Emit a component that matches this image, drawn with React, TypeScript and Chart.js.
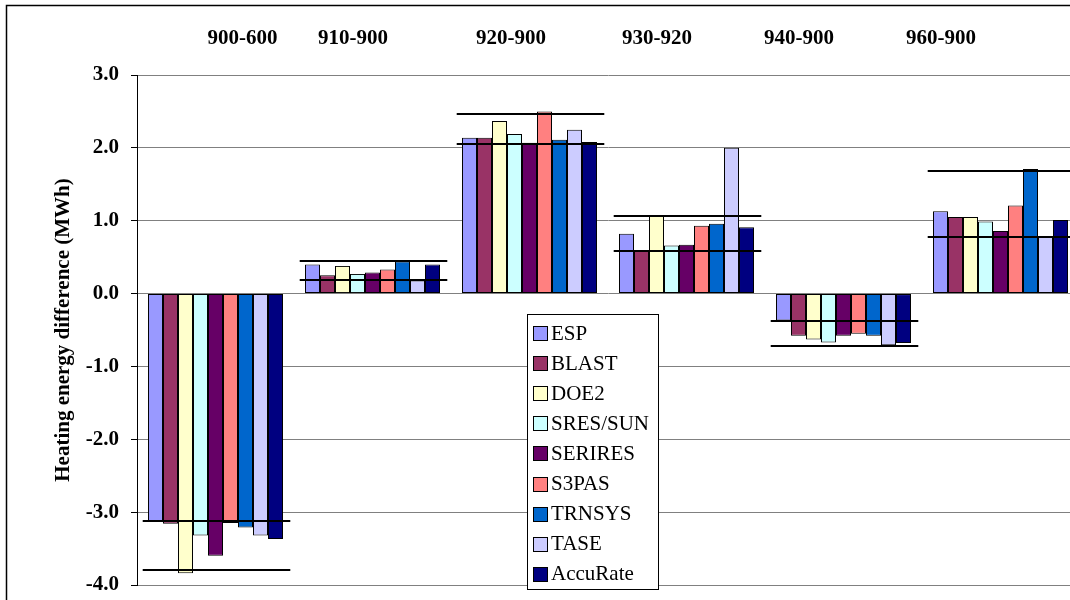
import React, { useEffect, useRef } from "react";
import { Chart, registerables } from "chart.js";

Chart.register(...registerables);

const categories = ["900-600", "910-900", "920-900", "930-920", "940-900", "960-900"];
const categoryLabelX = [242.5, 353, 511, 657, 799, 941];

const seriesNames = ["ESP", "BLAST", "DOE2", "SRES/SUN", "SERIRES", "S3PAS", "TRNSYS", "TASE", "AccuRate"];
const seriesColors = ["#9999FF", "#993366", "#FFFFCC", "#CCFFFF", "#660066", "#FF8080", "#0066CC", "#CCCCFF", "#000080"];

const esp = [-3.12, 0.4, 2.14, 0.82, -0.37, 1.13];
const blast = [-3.16, 0.25, 2.14, 0.59, -0.58, 1.05];
const doe2 = [-3.84, 0.38, 2.37, 1.07, -0.63, 1.05];
const sresSun = [-3.32, 0.27, 2.19, 0.66, -0.67, 0.99];
const serires = [-3.6, 0.29, 2.07, 0.67, -0.58, 0.86];
const s3pas = [-3.15, 0.33, 2.5, 0.93, -0.55, 1.21];
const trnsys = [-3.21, 0.44, 2.11, 0.96, -0.58, 1.71];
const tase = [-3.32, 0.18, 2.25, 2.0, -0.71, 0.78];
const accurate = [-3.37, 0.4, 2.08, 0.91, -0.68, 1.01];

const rangeUpper = [-3.12, 0.45, 2.47, 1.06, -0.38, 1.68];
const rangeLower = [-3.8, 0.18, 2.05, 0.58, -0.72, 0.78];

const yMin = -4;
const yMax = 3;
const yStep = 1;
const yTitle = "Heating energy difference (MWh)";

const seriesValues = [esp, blast, doe2, sresSun, serires, s3pas, trnsys, tase, accurate];

const FONT = "'Liberation Serif', 'Times New Roman', serif";

const overlayPlugin = {
  id: "overlay",
  afterDatasetsDraw(chart: any) {
    const { ctx } = chart;
    const x = chart.scales.x;
    const y = chart.scales.y;
    const half = (x.getPixelForValue(1) - x.getPixelForValue(0)) * 0.47;
    ctx.save();
    ctx.strokeStyle = "#000";
    ctx.lineWidth = 2;
    categories.forEach((_, i) => {
      const cx = x.getPixelForValue(i) + 1;
      [rangeUpper[i], rangeLower[i]].forEach((v) => {
        const py = Math.round(y.getPixelForValue(v));
        ctx.beginPath();
        ctx.moveTo(cx - half, py);
        ctx.lineTo(cx + half, py);
        ctx.stroke();
      });
    });
    ctx.restore();
  },
  afterDraw(chart: any) {
    const { ctx } = chart;
    ctx.save();
    // outer frame
    ctx.strokeStyle = "#000";
    ctx.lineWidth = 1.5;
    ctx.beginPath();
    ctx.moveTo(6.5, 2000);
    ctx.lineTo(6.5, 5.5);
    ctx.lineTo(2000, 5.5);
    ctx.stroke();

    // category labels at top
    ctx.fillStyle = "#000";
    ctx.font = `bold 21px ${FONT}`;
    ctx.textAlign = "center";
    ctx.textBaseline = "middle";
    categories.forEach((c, i) => {
      ctx.fillText(c, categoryLabelX[i], 39);
    });

    // legend
    const lx = 527.5, ly = 314.5, lw = 131, lh = 275;
    ctx.fillStyle = "#fff";
    ctx.fillRect(lx, ly, lw, lh);
    ctx.strokeStyle = "#000";
    ctx.lineWidth = 1;
    ctx.strokeRect(lx, ly, lw, lh);
    ctx.font = `21px ${FONT}`;
    ctx.textAlign = "left";
    ctx.textBaseline = "middle";
    chart.data.datasets.forEach((ds: any, i: number) => {
      const cy = 333 + i * 30.1;
      ctx.fillStyle = ds.backgroundColor;
      ctx.fillRect(533.5, Math.round(cy - 7) + 0.5, 14, 14);
      ctx.strokeStyle = "#000";
      ctx.strokeRect(533.5, Math.round(cy - 7) + 0.5, 14, 14);
      ctx.fillStyle = "#000";
      ctx.fillText(ds.label, 551, cy + 1);
    });
    ctx.restore();
  },
};

export default function App() {
  const canvasRef = useRef<HTMLCanvasElement | null>(null);

  useEffect(() => {
    if (!canvasRef.current) return;
    const chart = new Chart(canvasRef.current, {
      type: "bar",
      data: {
        labels: categories,
        datasets: seriesNames.map((name, i) => ({
          label: name,
          data: seriesValues[i],
          backgroundColor: seriesColors[i],
          borderColor: "#000",
          borderWidth: 1,
          borderSkipped: false,
          categoryPercentage: 0.86,
          barPercentage: 1.0,
        })),
      },
      options: {
        responsive: false,
        animation: false,
        layout: { padding: { top: 75, bottom: 35, left: 0, right: 21 } },
        plugins: {
          legend: { display: false },
          tooltip: { enabled: false },
        },
        scales: {
          x: { display: false },
          y: {
            min: yMin,
            max: yMax,
            afterFit: (scale: any) => {
              scale.width = 137;
            },
            ticks: {
              stepSize: yStep,
              color: "#000",
              padding: 12,
              font: { family: FONT, size: 21, weight: "bold" },
              callback: (v: any) => Number(v).toFixed(1),
            },
            grid: {
              color: "#808080",
              lineWidth: 1,
              tickLength: 6,
              tickColor: "#000",
            },
            border: { display: true, color: "#000", width: 1 },
            title: {
              display: true,
              text: yTitle,
              color: "#000",
              font: { family: FONT, size: 21, weight: "bold" },
              padding: { top: 51, bottom: 0 },
            },
          },
        },
      },
      plugins: [overlayPlugin],
    });
    return () => chart.destroy();
  }, []);

  return (
    <div style={{ position: "fixed", left: 0, top: 0, width: 1100, height: 620, background: "#fff" }}>
      <canvas ref={canvasRef} width={1100} height={620} style={{ width: 1100, height: 620, display: "block" }} />
    </div>
  );
}
